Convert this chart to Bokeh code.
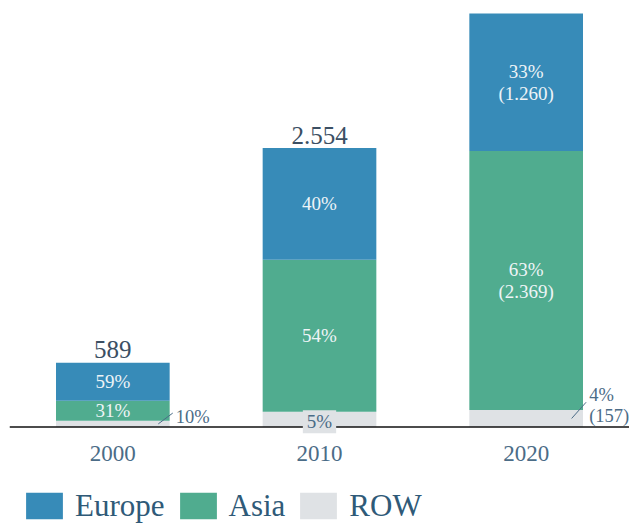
from bokeh.plotting import figure
from bokeh.layouts import column
from bokeh.models import ColumnDataSource, FactorRange, Range1d, Span, Legend, LegendItem
from bokeh.transform import dodge
from bokeh.core.properties import value
from bokeh.embed import file_html
from bokeh.resources import INLINE

# ---- data ----
years = ["2000", "2010", "2020"]
europe = [348, 1022, 1260]
asia = [183, 1392, 2369]
row = [58, 140, 157]
total_labels = ["589", "2.554", ""]
europe_labels = ["59%", "40%", "33%\n(1.260)"]
asia_labels = ["31%", "54%", "63%\n(2.369)"]
row_labels = ["10%", "5%", "4%\n(157)"]
series = ["Europe", "Asia", "ROW"]

# ---- styles ----
colors = {"Europe": "#378bb8", "Asia": "#50ac8f", "ROW": "#dfe2e5"}
SERIF = "Liberation Serif"
inner_color = "#eef4f7"
dark_text = "#3b4f63"
axis_text = "#4b6c87"

totals = [e + a + r for e, a, r in zip(europe, asia, row)]

src = ColumnDataSource(dict(year=years, Europe=europe, Asia=asia, ROW=row))

p = figure(x_range=FactorRange(*years), y_range=Range1d(-105, 3905),
           frame_width=620, frame_height=438,
           output_backend="svg", toolbar_location=None,
           y_axis_location=None,
           min_border_left=9, min_border_right=0, min_border_top=0, min_border_bottom=48)
p.x_range.range_padding = 0
p.outline_line_color = None
p.xgrid.visible = False
p.ygrid.visible = False

stack_order = ["ROW", "Asia", "Europe"]
p.vbar_stack(stack_order, x="year", width=0.55, source=src,
             fill_color=[colors[s] for s in stack_order], line_color=None)

# baseline
p.add_layout(Span(location=0, dimension="width", line_color="#111111", line_width=1.5))

# inner labels
ymid_eu = [r + a + e / 2 for e, a, r in zip(europe, asia, row)]
ymid_as = [r + a / 2 for a, r in zip(asia, row)]
inner = ColumnDataSource(dict(x=years + years, y=ymid_eu + ymid_as,
                              t=europe_labels + asia_labels))
p.text(x="x", y="y", text="t", source=inner, text_align="center", text_baseline="middle",
       text_font=value(SERIF), text_font_size="19px", text_color=inner_color,
       text_line_height=1.05)

# totals
tot_src = ColumnDataSource(dict(x=years, y=totals, t=total_labels))
p.text(x="x", y="y", text="t", source=tot_src, text_align="center",
       text_baseline="middle", y_offset=-13,
       text_font=value(SERIF), text_font_size="25px", text_color=dark_text)

# ROW labels outside (2000, 2020) with leader lines
out_idx = [0, 2]
out_src = ColumnDataSource(dict(x=[years[i] for i in out_idx],
                                y=[row[i] for i in out_idx],
                                t=[row_labels[i] for i in out_idx],
                                y0=[row[i] / 2 for i in out_idx],
                                y1=[row[i] + 70 for i in out_idx]))
p.segment(x0=dodge("x", 0.22, range=p.x_range), y0="y0",
          x1=dodge("x", 0.29, range=p.x_range), y1="y1",
          source=out_src, line_color=axis_text, line_width=1)
p.text(x="x", y="y", text="t", source=out_src, text_align="left", text_baseline="middle",
       x_offset=63, y_offset=-4,
       text_font=value(SERIF), text_font_size="18.5px", text_color=axis_text,
       text_line_height=1.05)

# ROW label 2010 on a light box
mid_src = ColumnDataSource(dict(x=[years[1]], y=[row[1]], t=[row_labels[1]]))
p.text(x="x", y="y", text="t", source=mid_src, text_align="center", text_baseline="middle",
       y_offset=10,
       text_font=value(SERIF), text_font_size="19px", text_color=axis_text,
       background_fill_color=colors["ROW"],
       padding=dict(left=4, right=4, top=1, bottom=1), level="overlay")

# x axis
ax = p.xaxis[0]
ax.axis_line_color = None
ax.major_tick_line_color = None
ax.minor_tick_line_color = None
ax.major_label_text_font = SERIF
ax.major_label_text_font_size = "23px"
ax.major_label_text_color = axis_text
ax.major_label_standoff = 1

# ---- legend strip (separate figure below the chart; its bars lie outside its view) ----
p2 = figure(width=629, height=39, output_backend="svg", toolbar_location=None,
            x_axis_location=None, y_axis_location=None,
            min_border_left=0, min_border_right=0, min_border_top=0, min_border_bottom=0,
            x_range=FactorRange(*years), y_range=Range1d(5000, 6000))
p2.outline_line_color = None
p2.xgrid.visible = False
p2.ygrid.visible = False
legend_rs = p2.vbar_stack(stack_order, x="year", width=0.55, source=src,
                          fill_color=[colors[s] for s in stack_order], line_color=None)
rmap = dict(zip(stack_order, legend_rs))

legend = Legend(items=[LegendItem(label=s, renderers=[rmap[s]]) for s in series],
                orientation="horizontal", location=(12, -3),
                glyph_width=46, glyph_height=33, label_height=45,
                label_text_font=SERIF, label_text_font_size="31px",
                label_text_color="#2f5a78", label_standoff=8, spacing=10,
                padding=0, margin=0, border_line_color=None, background_fill_alpha=0)
p2.add_layout(legend)

layout = column(p, p2, spacing=0)
open("out.html", "w").write(file_html(layout, INLINE))
